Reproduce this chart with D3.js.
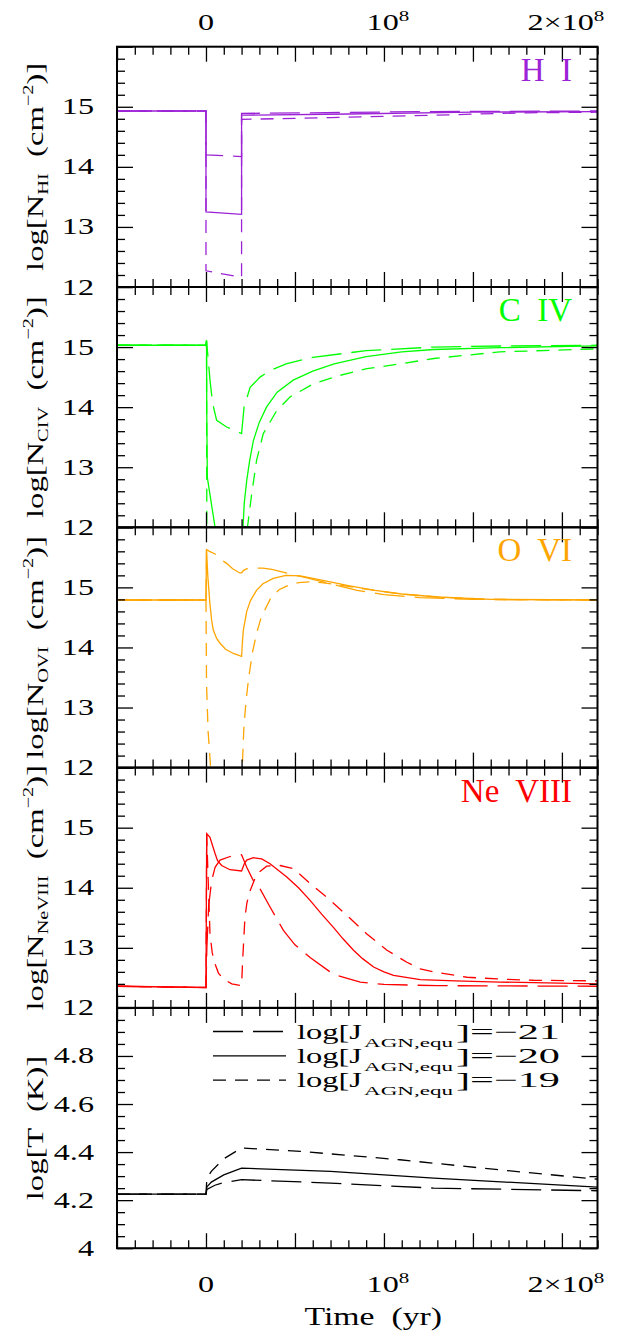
<!DOCTYPE html>
<html><head><meta charset="utf-8">
<script src="https://cdn.jsdelivr.net/npm/d3@7"></script>
<style>
body{margin:0;background:#fff;}
svg text{font-family:"Liberation Serif","DejaVu Serif",serif;white-space:pre;}
</style></head><body>
<svg id="c" width="622" height="1336"></svg>
<script>
// ---------------- data (time in Myr, values in log units) ----------------
const xMajorTicks = [-50, 0, 50, 100, 150, 200];
const xTickLabels = [["0", ""], ["10", "8"], ["2×10", "8"]];
const xTickLabelValues = [0, 100, 200];
const yTicksN = [12, 13, 14, 15, 16];
const yLabelsN = [12, 13, 14, 15];
const yTicksT = [4, 4.2, 4.4, 4.6, 4.8, 5];
const yLabelsT = ["4", "4.2", "4.4", "4.6", "4.8"];
const ionNames = ["H  I", "C  IV", "O  VI", "Ne  VIII"];
const ionSubs = ["HI", "CIV", "OVI", "NeVIII"];
const legendValues = ["−21", "−20", "−19"];

const hiLong  = [[-50,14.93],[0,14.93],[0,14.2],[20,14.17],[20,14.89],[60,14.9],[120,14.92],[220,14.93]];
const hiSolid = [[-50,14.93],[0,14.93],[0,13.25],[20,13.21],[20,14.86],[80,14.88],[150,14.91],[220,14.92]];
const hiShort = [[-50,14.93],[0,14.93],[0,12.27],[20,12.16],[20,14.79],[70,14.82],[128,14.86],[180,14.9],[220,14.91]];

const civLong  = [[-50,15.03],[0,15.03],[0.3,15.11],[1.3,14.78],[2.25,14.45],[3.75,14.06],[6,13.78],[11.6,13.67],[20,13.56],[21.4,14.0],[24.8,14.33],[30.4,14.5],[36,14.61],[45,14.72],[60,14.83],[90,14.94],[128,15.0],[170,15.02],[220,15.03]];
const civSolid = [[-50,15.03],[0,15.03],[0.3,15.11],[0.45,13.89],[0.75,12.83],[5.1,12.0],[7,11.8],[20,11.5],[20.8,12.0],[21.5,12.4],[22.9,12.78],[24.5,13.1],[26.6,13.44],[30,13.75],[34,14.0],[40,14.25],[49,14.45],[60,14.6],[72,14.72],[90,14.84],[110,14.92],[128,14.96],[165,14.99],[220,15.02]];
const civShort = [[-50,15.03],[0,15.03],[0.3,15.11],[0.5,11.5],[20,11.5],[23.3,12.0],[25.7,12.56],[28.4,13.11],[32.2,13.56],[39.7,13.94],[47.2,14.17],[60.4,14.39],[75.4,14.53],[90.4,14.64],[109,14.72],[128,14.81],[165,14.92],[220,14.97]];

const oviLong  = [[-50,14.79],[0,14.79],[0.3,15.63],[2,15.6],[5.1,15.555],[8,15.47],[11.6,15.4],[15,15.31],[19,15.24],[20,15.24],[21,15.28],[23,15.31],[26.6,15.32],[32,15.32],[37,15.3],[45,15.24],[55,15.17],[70,15.06],[85,14.95],[100,14.88],[120,14.83],[150,14.8],[220,14.79]];
const oviSolid = [[-50,14.79],[0,14.79],[0.3,15.63],[1,15.2],[2.2,14.73],[3.2,14.45],[4.1,14.29],[6,14.15],[7.9,14.07],[11,13.97],[15.4,13.9],[20,13.85],[20.5,14.1],[21,14.29],[22.9,14.6],[25,14.78],[28.4,14.95],[32,15.06],[37.8,15.15],[45,15.2],[53,15.19],[65,15.12],[80,15.03],[95,14.95],[110,14.89],[130,14.84],[160,14.8],[220,14.79]];
const oviShort = [[-50,14.79],[0,14.79],[0.3,13.4],[1.2,12.6],[2.2,12.18],[2.8,11.9],[3.5,11.5],[20,11.5],[20.4,12.0],[21.3,12.68],[22.5,13.1],[23.8,13.45],[26,13.9],[28.4,14.23],[31,14.5],[36,14.8],[41,14.96],[46,15.03],[52,15.08],[58,15.09],[65,15.08],[75,15.04],[90,14.97],[110,14.89],[130,14.84],[160,14.8],[220,14.79]];

const neLong  = [[-50,12.36],[0,12.34],[0.5,13.0],[1.5,13.7],[3.2,14.12],[5.1,14.34],[7.9,14.46],[13.5,14.52],[20,14.55],[22.9,14.34],[26.6,14.12],[30.4,13.98],[36,13.68],[43.5,13.29],[50,13.05],[58.5,12.84],[71.6,12.56],[86.7,12.43],[100,12.39],[130,12.37],[220,12.36]];
const neSolid = [[-50,12.36],[0,12.34],[0.4,14.9],[2.25,14.84],[3.5,14.72],[5.1,14.57],[6.5,14.45],[8.8,14.37],[13.5,14.3],[20,14.28],[21.5,14.4],[22.9,14.46],[26.6,14.5],[31.3,14.48],[36,14.4],[45.4,14.18],[52,14.0],[58.5,13.79],[65,13.56],[71.6,13.34],[77,13.15],[82.9,12.96],[88,12.82],[94.2,12.68],[100,12.6],[105.4,12.54],[120.4,12.47],[140,12.45],[165,12.43],[220,12.4]];
const neShort = [[-50,12.36],[0,12.34],[0.4,14.9],[1.3,14.07],[2.25,13.23],[3.5,12.92],[5.1,12.73],[7,12.58],[9.8,12.48],[14.5,12.4],[20,12.37],[20.6,12.79],[21.9,13.51],[23,13.75],[24.8,13.95],[28.5,14.23],[34.1,14.36],[41.6,14.37],[49.1,14.32],[58.5,14.07],[67.9,13.84],[79.2,13.54],[90.4,13.23],[101.7,12.96],[112.9,12.76],[120.4,12.65],[128,12.6],[146.7,12.51],[165,12.48],[184,12.46],[220,12.45]];

const tLong  = [[-50,4.225],[0,4.225],[0.5,4.245],[5,4.262],[10,4.273],[20,4.285],[70,4.271],[128,4.25],[220,4.239]];
const tSolid = [[-50,4.225],[0,4.225],[0.5,4.255],[3,4.275],[10,4.305],[20,4.333],[70,4.32],[128,4.292],[220,4.254]];
const tShort = [[-50,4.225],[0,4.225],[0.5,4.29],[3,4.32],[10,4.372],[20,4.417],[53,4.403],[109,4.368],[165,4.326],[220,4.287]];

// ---------------- styles / layout ----------------
const ionColors = ["#9c22d6", "#00ff00", "#ffa500", "#ff0000", "#000000"];
const dashes = ["30,10", null, "13,9"];
const X0 = 117, X1 = 597.5, TOP = 46.7, PH = 240.3;
const SX = 1.4;

const panels = [
  {series: [hiLong, hiSolid, hiShort], dom: [12, 16], ticks: yTicksN, labels: yLabelsN, minor: 0.2},
  {series: [civLong, civSolid, civShort], dom: [12, 16], ticks: yTicksN, labels: yLabelsN, minor: 0.2},
  {series: [oviLong, oviSolid, oviShort], dom: [12, 16], ticks: yTicksN, labels: yLabelsN, minor: 0.2},
  {series: [neLong, neSolid, neShort], dom: [12, 16], ticks: yTicksN, labels: yLabelsN, minor: 0.2},
  {series: [tLong, tSolid, tShort], dom: [4, 5], ticks: yTicksT, labels: yLabelsT, minor: 0.05}
];

const svg = d3.select("#c");
const x = d3.scaleLinear().domain([-50e6, 220e6]).range([X0, X1]);
const xMinor = d3.range(-40, 221, 10).filter(v => v % 50 !== 0).map(v => v * 1e6);
const xMajor = xMajorTicks.map(v => v * 1e6);

function stxt(parent, tx, ty, rot, sx, anchor, size, parts, fill) {
  const g = parent.append("g").attr("transform", `translate(${tx},${ty}) rotate(${rot}) scale(${sx},1)`);
  const t = g.append("text").attr("text-anchor", anchor).attr("font-size", size).attr("fill", fill || "#000");
  let shift = 0;
  parts.forEach(p => {
    const s = p.shift || 0;
    t.append("tspan").attr("font-size", p.size || size).attr("dy", s - shift).text(p.t);
    shift = s;
  });
  return t;
}

panels.forEach((p, i) => {
  const top = TOP + i * PH, bot = top + PH;
  const y = d3.scaleLinear().domain(p.dom).range([bot, top]);
  const g = svg.append("g");
  const cid = "clip" + i;
  svg.append("clipPath").attr("id", cid).append("rect").attr("x", X0).attr("y", top).attr("width", X1 - X0).attr("height", PH);

  const line = d3.line().x(d => x(d[0] * 1e6)).y(d => y(d[1]));
  p.series.forEach((s, k) => {
    g.append("path").attr("d", line(s)).attr("fill", "none")
      .attr("stroke", ionColors[i]).attr("stroke-width", 1.3)
      .attr("stroke-dasharray", dashes[k]).attr("clip-path", `url(#${cid})`);
  });

  const yMinor = d3.range(p.dom[0], p.dom[1] + 1e-9, p.minor).filter(v => !p.ticks.some(t => Math.abs(t - v) < 1e-6));
  const mk = (axis, tr, vals, size) => {
    const a = g.append("g").attr("transform", tr).call(axis.tickValues(vals).tickSize(-size).tickFormat(""));
    a.select(".domain").remove();
    a.selectAll("line").attr("stroke", "#000").attr("stroke-width", 1.3);
  };
  mk(d3.axisBottom(x), `translate(0,${bot})`, xMajor, 15);
  mk(d3.axisBottom(x), `translate(0,${bot})`, xMinor, 8);
  mk(d3.axisTop(x), `translate(0,${top})`, xMajor, 15);
  mk(d3.axisTop(x), `translate(0,${top})`, xMinor, 8);
  mk(d3.axisLeft(y), `translate(${X0},0)`, p.ticks, 16);
  mk(d3.axisLeft(y), `translate(${X0},0)`, yMinor, 8);
  mk(d3.axisRight(y), `translate(${X1},0)`, p.ticks, 16);
  mk(d3.axisRight(y), `translate(${X1},0)`, yMinor, 8);

  g.append("rect").attr("x", X0).attr("y", top).attr("width", X1 - X0).attr("height", PH)
    .attr("fill", "none").attr("stroke", "#000").attr("stroke-width", 2);

  p.labels.forEach(v => {
    stxt(g, 94, y(+v) + 7.5, 0, SX, "end", 23, [{t: String(v)}]);
  });

  if (i < 4) {
    stxt(g, 572, top + 34, 0, 1, "end", 33, [{t: ionNames[i]}], ionColors[i]);
    stxt(g, 43, (top + bot) / 2, -90, 1.36, "middle", 24,
      [{t: "log[N"}, {t: ionSubs[i], size: 15, shift: 5}, {t: "  (cm"}, {t: "−2", size: 15, shift: -10}, {t: ")]"}]);
  } else {
    stxt(g, 43, (top + bot) / 2, -90, 1.36, "middle", 24, [{t: "log[T  (K)]"}]);
  }
});

const bottomY = TOP + 5 * PH;
xTickLabelValues.forEach((v, j) => {
  const [m, s] = xTickLabels[j];
  const parts = [{t: m}];
  if (s) parts.push({t: s, size: 15, shift: -9});
  const dx = s ? 4 : 0;
  stxt(svg, x(v * 1e6) + dx, 30, 0, SX, "middle", 23, parts);
  stxt(svg, x(v * 1e6) + dx, bottomY + 44, 0, SX, "middle", 23, parts);
});
stxt(svg, x(0.94e8), bottomY + 77, 0, 1.35, "middle", 25, [{t: "Time  (yr)"}]);

// legend
legendValues.forEach((lab, k) => {
  const ly = 1031.5 + 24.3 * k;
  svg.append("line").attr("x1", 213).attr("x2", 286).attr("y1", ly).attr("y2", ly)
    .attr("stroke", "#000").attr("stroke-width", 1.3).attr("stroke-dasharray", dashes[k]);
  svg.append("text").attr("x", 297).attr("y", ly + 7).attr("font-size", 21)
    .attr("textLength", 65).attr("lengthAdjust", "spacingAndGlyphs").text("log[J");
  svg.append("text").attr("x", 364).attr("y", ly + 15).attr("font-size", 12)
    .attr("textLength", 89).attr("lengthAdjust", "spacingAndGlyphs").text("AGN,equ");
  svg.append("text").attr("x", 456).attr("y", ly + 7).attr("font-size", 21)
    .attr("textLength", 104).attr("lengthAdjust", "spacingAndGlyphs").text("]=" + lab);
});
</script>
</body></html>
